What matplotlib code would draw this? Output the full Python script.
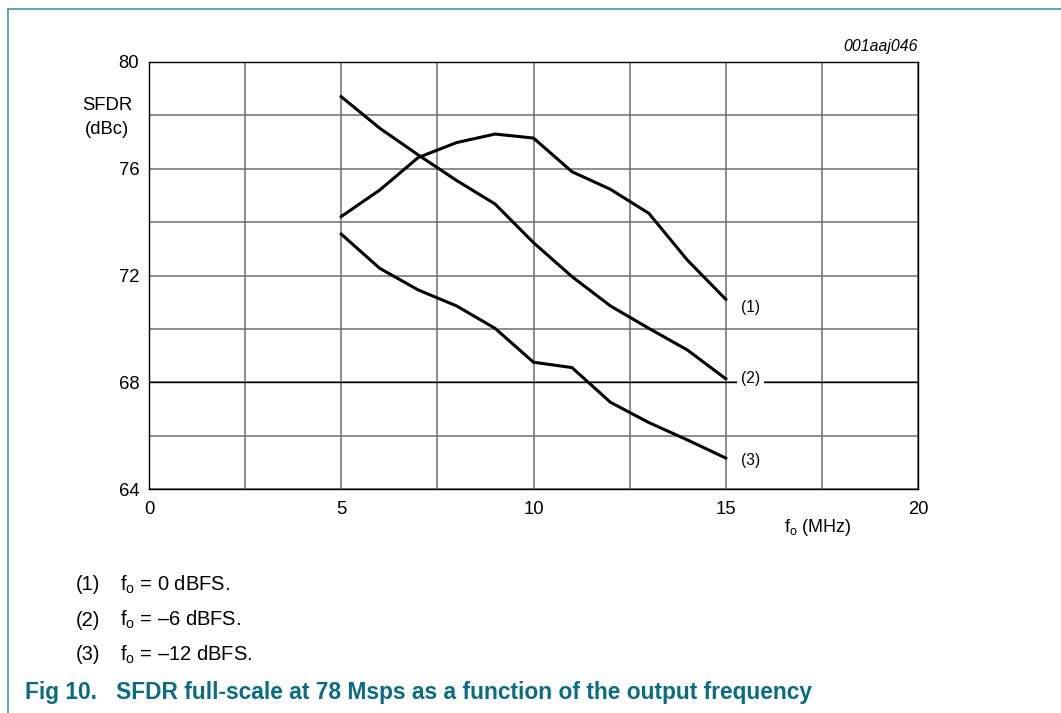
import matplotlib
matplotlib.use("Agg")
import matplotlib.pyplot as plt
from matplotlib.lines import Line2D

plt.rcParams['font.family'] = ['Liberation Sans', 'DejaVu Sans']
plt.rcParams['mathtext.fontset'] = 'custom'
plt.rcParams['mathtext.rm'] = 'Liberation Sans'

freq = [5, 6, 7, 8, 9, 10, 11, 12, 13, 14, 15]
sfdr_0dbfs = [74.21, 75.2, 76.42, 76.98, 77.30, 77.15, 75.89, 75.23, 74.33, 72.58, 71.11]
sfdr_m6dbfs = [78.70, 77.52, 76.52, 75.56, 74.68, 73.23, 71.96, 70.86, 70.02, 69.21, 68.13]
sfdr_m12dbfs = [73.55, 72.27, 71.46, 70.86, 70.02, 68.75, 68.55, 67.25, 66.49, 65.84, 65.16]
series_labels = ["(1)", "(2)", "(3)"]
x_ticks = [0, 5, 10, 15, 20]
y_ticks = [64, 68, 72, 76, 80]
notes = [r"f$_{\mathregular{o}}$ = 0 dBFS.",
         r"f$_{\mathregular{o}}$ = –6 dBFS.",
         r"f$_{\mathregular{o}}$ = –12 dBFS."]
title = "Fig 10.   SFDR full-scale at 78 Msps as a function of the output frequency"

fig = plt.figure(figsize=(10.61, 7.13), dpi=100)
ax = fig.add_axes([149/1061, 1-489/713, (918-149)/1061, (489-62)/713])

ax.set_xlim(0, 20)
ax.set_ylim(64, 80)
ax.set_xticks(x_ticks)
ax.set_yticks(y_ticks)
ax.set_xticks([2.5, 7.5, 12.5, 17.5], minor=True)
ax.set_yticks([66, 70, 74, 78], minor=True)
ax.grid(True, which='both', color='#6e6e6e', lw=1.1)
ax.tick_params(which='both', length=0, labelsize=13.3)
ax.tick_params(axis='x', pad=9)
ax.tick_params(axis='y', pad=7)
for s in ax.spines.values():
    s.set_color('black')
    s.set_linewidth(1.0)
ax.set_axisbelow(True)

ax.axhline(68, color='black', lw=1.0, zorder=1.5)

for ys in (sfdr_0dbfs, sfdr_m6dbfs, sfdr_m12dbfs):
    ax.plot(freq, ys, color='black', lw=2.2, zorder=3)

offsets = [-0.3, 0.0, -0.1]
for lab, ys, yoff in zip(series_labels, (sfdr_0dbfs, sfdr_m6dbfs, sfdr_m12dbfs), offsets):
    ax.text(15.4, ys[-1] + yoff, lab, fontsize=11.2, ha='left', va='center', zorder=4,
            bbox=dict(facecolor='white', edgecolor='none', pad=3))

ax.text(20, 80.3, "001aaj046", fontsize=11.4, style='italic', ha='right', va='bottom')
fig.text(107/1061, 1-106/713, "SFDR", fontsize=13.3, ha='center', va='center')
fig.text(107/1061, 1-130/713, "(dBc)", fontsize=13.3, ha='center', va='center')
fig.text(818/1061, 1-528/713, r"f$_{\mathregular{o}}$ (MHz)", fontsize=13, ha='center', va='center')

for i, (lab, note) in enumerate(zip(series_labels, notes)):
    y = 1 - (585 + 35*i)/713
    fig.text(76/1061, y, lab, fontsize=14.5, ha='left', va='center')
    fig.text(120/1061, y, note, fontsize=14.5, ha='left', va='center')

teal = '#0a6c84'
fig.text(25/1061, 1-693/713, title, fontsize=16.4, fontweight='bold', color=teal,
         ha='left', va='center')

frame_col = '#4f9fae'
fig.add_artist(Line2D([8/1061, 8/1061], [0, 1-9/713], color=frame_col, lw=1.3,
                      transform=fig.transFigure))
fig.add_artist(Line2D([8/1061, 1], [1-9/713, 1-9/713], color=frame_col, lw=1.3,
                      transform=fig.transFigure))

fig.savefig("out.png", dpi=100)
